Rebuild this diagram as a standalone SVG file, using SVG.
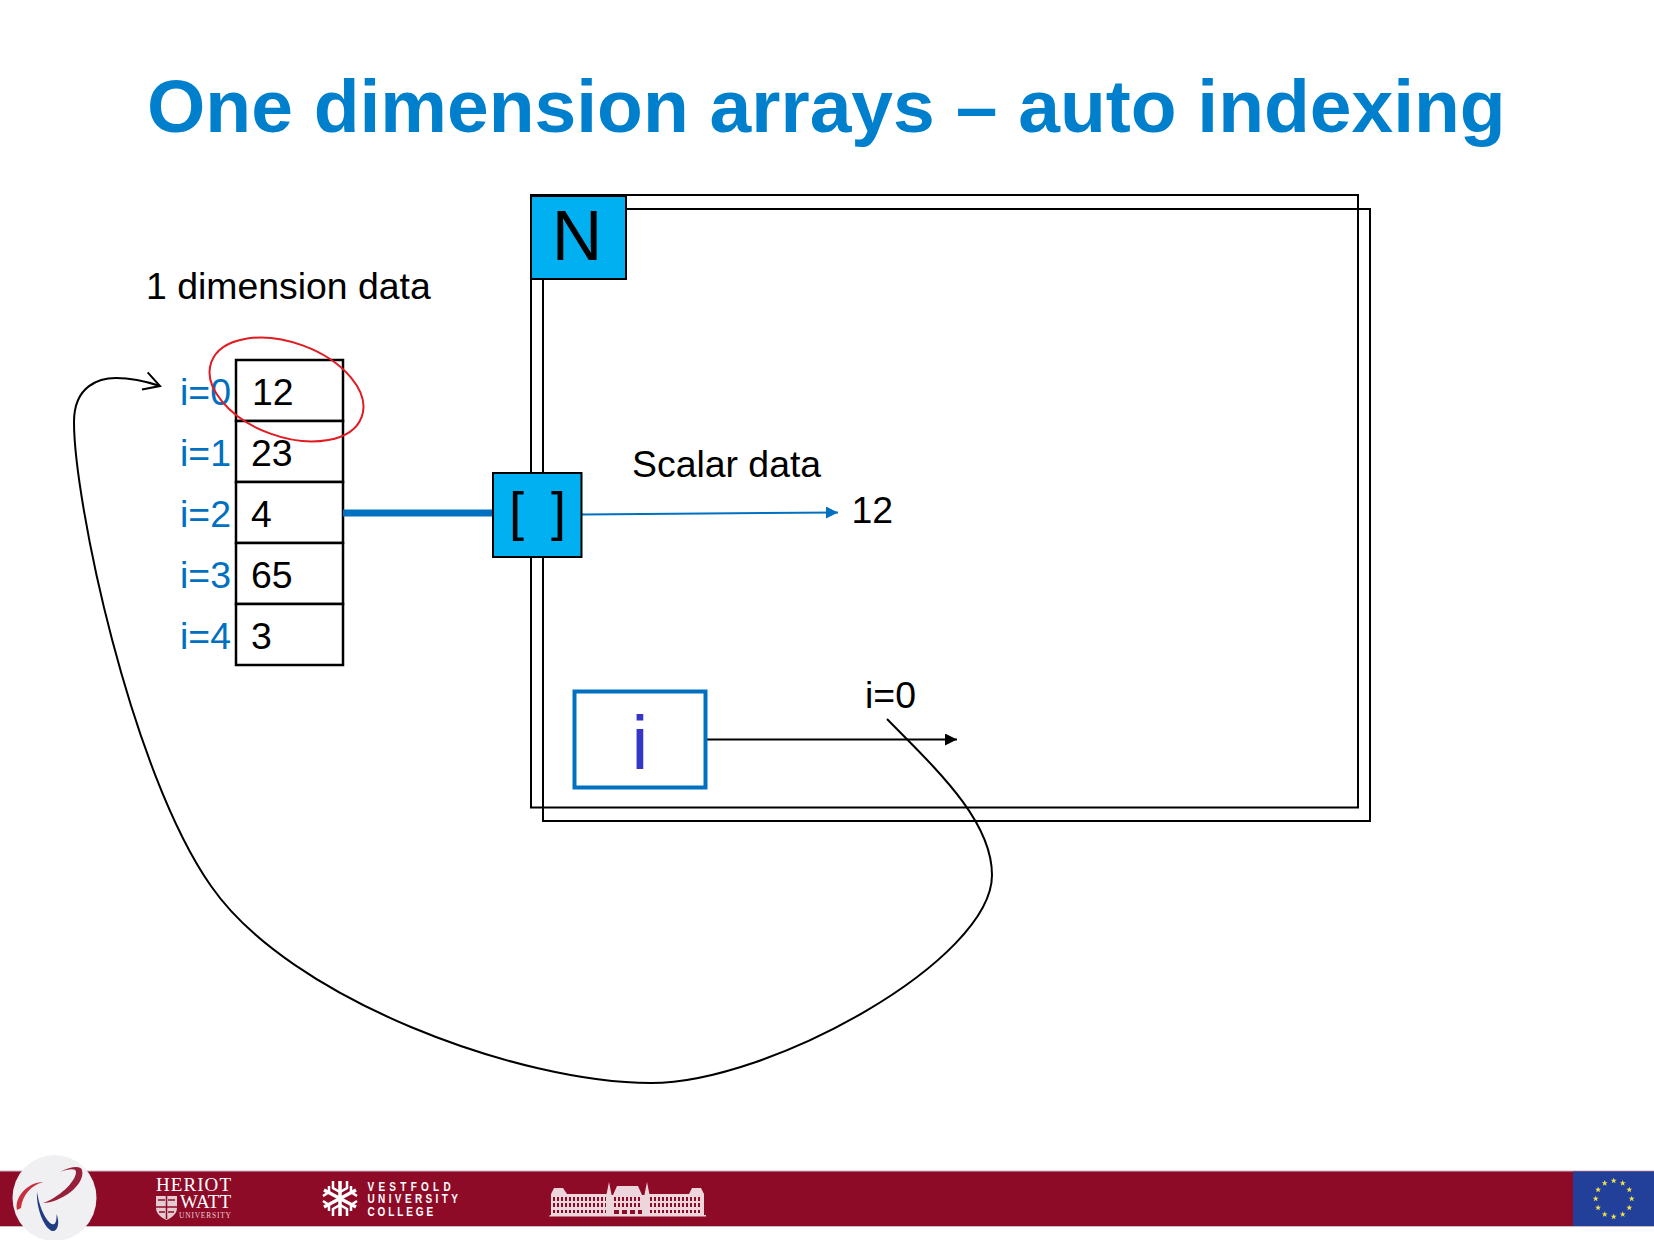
<svg xmlns="http://www.w3.org/2000/svg" width="1654" height="1240" viewBox="0 0 1654 1240">
<style>
text{font-family:"Liberation Sans",Arial,sans-serif;fill:#000}
.t{font-size:37.400px}
.b{fill:#0070C0;font-size:37.400px}
.box{fill:#00B0F0;stroke:#000;stroke-width:2}
.cell{fill:#fff;stroke:#000;stroke-width:2.500}
.frame{fill:none;stroke:#000;stroke-width:2}
.w{fill:#fff;font-family:"Liberation Serif",serif}
.v{fill:#fff;font-weight:bold;font-size:12.500px}
.s{fill:#f2e34a}
.bld{fill:#ecd6db}
.win{fill:none;stroke:#8E0B28;stroke-dasharray:2 2}
</style>
<defs>
<marker id="tri" markerUnits="userSpaceOnUse" markerWidth="14" markerHeight="12" refX="12" refY="6" orient="auto"><path d="M0 0L12 6L0 12z" fill="context-stroke"/></marker>
<marker id="open" markerUnits="userSpaceOnUse" markerWidth="20" markerHeight="24" refX="18" refY="12" orient="auto"><path d="M2 3L18 12L2 21" fill="none" stroke="#000" stroke-width="2"/></marker>
<g id="star"><path d="M0-3L.8-.9 3-.9 1.200.4 1.900 2.600 0 1.300-1.900 2.600-1.200.4-3-.9-.8-.9z"/></g>
</defs>
<rect width="1654" height="1240" fill="#fff"/>
<text id="title" x="147" y="132" style="font-size:75px;font-weight:bold;fill:#0080CC">One dimension arrays – auto indexing</text>
<g id="frame"><rect class="frame" x="543" y="209" width="827" height="612"/><rect class="frame" x="531" y="195" width="827" height="612.500"/></g>
<text id="label-1d" class="t" x="146" y="299">1 dimension data</text>
<g id="array">
<rect class="cell" x="236" y="360" width="107" height="61"/><rect class="cell" x="236" y="421" width="107" height="61"/><rect class="cell" x="236" y="482" width="107" height="61"/><rect class="cell" x="236" y="543" width="107" height="61"/><rect class="cell" x="236" y="604" width="107" height="61"/>
<text class="t" x="252" y="405">12</text><text class="t" x="251" y="466">23</text><text class="t" x="251" y="527">4</text><text class="t" x="251" y="588">65</text><text class="t" x="251" y="649">3</text>
<text class="b" x="180" y="405">i=0</text><text class="b" x="180" y="466">i=1</text><text class="b" x="180" y="527">i=2</text><text class="b" x="180" y="588">i=3</text><text class="b" x="180" y="649">i=4</text>
</g>
<ellipse id="highlight" cx="286.500" cy="389.500" rx="80" ry="47" transform="rotate(20 286.500 389.500)" fill="none" stroke="#E01B22" stroke-width="2"/>
<g id="connectors" fill="none">
<path d="M343 513H493" stroke="#0070C0" stroke-width="7"/>
<path d="M582 514.500L838 512.500" stroke="#0070C0" stroke-width="2" marker-end="url(#tri)"/>
<path d="M705 739.500H957" stroke="#000" stroke-width="2" marker-end="url(#tri)"/>
<path d="M887 719C935 768 992 820 992 875C992 960 770 1083 651 1083C520 1083 290 1000 211 886C130 770 74 500 74 422C74 385 100 378 116 378C130 378 145 381 160 386" stroke="#000" stroke-width="2" marker-end="url(#open)"/>
</g>
<g id="node-n"><rect class="box" x="531" y="196" width="95" height="83"/><text x="577" y="260" text-anchor="middle" font-size="70">N</text></g>
<g id="node-index"><rect class="box" x="493" y="473" width="88.500" height="84"/><text x="537.500" y="530" text-anchor="middle" font-size="54" word-spacing="12">[ ]</text></g>
<g id="node-i"><rect x="574.500" y="691.500" width="131" height="96" fill="#fff" stroke="#0070C0" stroke-width="4"/><text x="640" y="769" text-anchor="middle" font-size="76" style="fill:#3535C8">i</text></g>
<text id="label-scalar" class="t" x="632" y="477">Scalar data</text>
<text id="value" class="t" x="851.500" y="523">12</text>
<text id="label-i0" class="t" x="865" y="708">i=0</text>
<g id="footer">
<rect y="1170.500" width="1654" height="56.500" fill="#C9B7BF"/>
<rect y="1171.500" width="1654" height="54.500" fill="#8E0B28"/>
<ellipse cx="54.500" cy="1198" rx="42" ry="43" fill="#F0F0F2"/>
<path d="M43 1203C60 1203 86 1185 82 1170C80 1165 70 1167 60 1172C68 1169 76 1168 76 1172C76 1182 58 1198 43 1203z" fill="#96203A"/>
<path d="M17 1210C14 1197 28 1182 43 1182C32 1185 22 1195 21 1208z" fill="#C6303F"/>
<path d="M37 1192C36 1208 44 1228 52 1231C58 1232 60 1222 56.500 1214C57 1224 54 1226 50 1223C43 1216 39 1204 37 1192z" fill="#1F3D80"/>
<text class="w" x="156" y="1191" font-size="19" textLength="75">HERIOT</text>
<text class="w" x="180" y="1208" font-size="19" textLength="51">WATT</text>
<text class="w" x="179" y="1218" font-size="7.500" textLength="52" style="fill:#e8d0d6">UNIVERSITY</text>
<path d="M156 1196H177V1208C177 1214 171 1218 166.500 1220C162 1218 156 1214 156 1208z" fill="#e2ccd2"/>
<path d="M166.500 1196V1219M156 1207H177M158 1200H165M168 1200H175M159 1212H165M168 1212H174" stroke="#8E0B28" stroke-width="1.500" fill="none"/>
<g stroke="#fff" stroke-width="3.500" fill="none"><path d="M340 1181V1216M324 1190L356 1207M324 1207L356 1190"/><path d="M333 1181V1188L340 1192L347 1188V1181M333 1216V1209L340 1205L347 1209V1216M323 1196L329 1192L329 1186M323 1201L329 1205V1211M357 1196L351 1192V1186M357 1201L351 1205V1211" stroke-width="2.500"/></g>
<text class="v" transform="translate(367.500 1191) scale(.8 1)" textLength="104">VESTFOLD</text>
<text class="v" transform="translate(367.500 1203) scale(.8 1)" textLength="113">UNIVERSITY</text>
<text class="v" transform="translate(367.500 1216) scale(.8 1)" textLength="82">COLLEGE</text>
<g class="bld">
<path d="M550 1215H706V1216.500H549z"/>
<rect x="551" y="1194" width="57" height="21"/><rect x="648" y="1194" width="56" height="21"/><rect x="607" y="1195" width="41" height="20"/>
<path d="M551 1194L554 1188H563L567 1194zM689 1194L692 1188H701L704 1194zM606 1197L609 1182L612 1197zM644 1197L647 1182L650 1197zM613 1195L617 1186H638L642 1195z"/>
</g>
<g class="win"><path d="M553 1199H606M650 1199H702M614 1199H642" stroke-width="4"/><path d="M553 1205H606M650 1205H702M614 1205H642" stroke-width="4"/><path d="M553 1211.500H606M650 1211.500H702" stroke-width="3"/><path d="M614 1212H642" stroke-width="4" stroke-dasharray="5 3"/></g>
<rect x="1573" y="1171.500" width="81" height="54.500" fill="#223F9A"/>
<g class="s">
<use href="#star" x="1613.700" y="1180.700"/><use href="#star" x="1622.700" y="1183.100"/><use href="#star" x="1629.300" y="1189.700"/><use href="#star" x="1631.700" y="1198.700"/><use href="#star" x="1629.300" y="1207.700"/><use href="#star" x="1622.700" y="1214.300"/><use href="#star" x="1613.700" y="1216.700"/><use href="#star" x="1604.700" y="1214.300"/><use href="#star" x="1598.100" y="1207.700"/><use href="#star" x="1595.700" y="1198.700"/><use href="#star" x="1598.100" y="1189.700"/><use href="#star" x="1604.700" y="1183.100"/>
</g>
</g>
</svg>
